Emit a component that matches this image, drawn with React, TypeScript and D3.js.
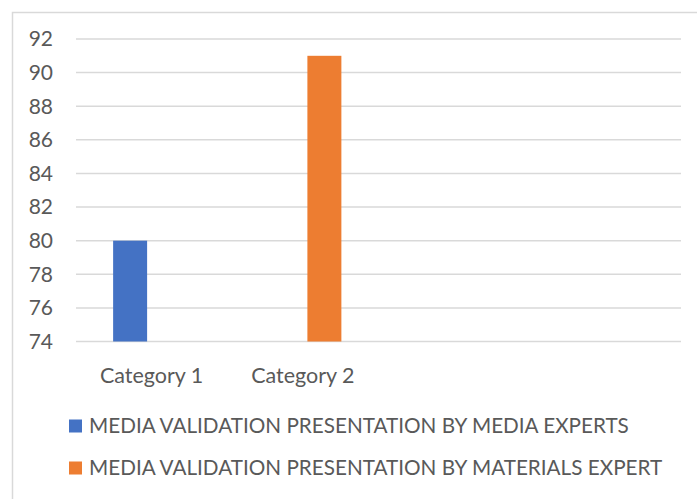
import React, { useEffect, useRef } from "react";
import * as d3 from "d3";

// Category axis: four slots, only the first two carry labels
const categories: string[] = ["Category 1", "Category 2", "", ""];
const seriesNames: string[] = [
  "MEDIA VALIDATION PRESENTATION BY MEDIA EXPERTS",
  "MEDIA VALIDATION PRESENTATION BY MATERIALS EXPERT",
];
const mediaExperts: (number | null)[] = [80, null, null, null];
const materialsExpert: (number | null)[] = [null, 91, null, null];
const yTicks: number[] = [74, 76, 78, 80, 82, 84, 86, 88, 90, 92];
const colors: string[] = ["#4472C4", "#ED7D31"];

const W = 697;
const H = 499;
const FONT = "Lato, 'Open Sans', sans-serif";
const TEXT = "#595959";
const GRID = "#d9d9d9";

export default function App() {
  const ref = useRef<SVGSVGElement | null>(null);

  useEffect(() => {
    const svg = d3.select(ref.current);
    svg.selectAll("*").remove();

    const left = 76;
    const right = 681;
    const top = 39;
    const bottom = 341.5;

    // chart frame
    svg
      .append("rect")
      .attr("x", 12.5)
      .attr("y", 12.5)
      .attr("width", W + 20)
      .attr("height", H + 20)
      .attr("fill", "#fff")
      .attr("stroke", GRID)
      .attr("stroke-width", 1.5);

    const x = d3
      .scaleBand<number>()
      .domain(categories.map((_, i) => i))
      .range([left, right])
      .padding(0);

    const y = d3.scaleLinear().domain([74, 92]).range([bottom, top]);

    // gridlines
    svg
      .append("g")
      .selectAll("line")
      .data(yTicks)
      .join("line")
      .attr("x1", left)
      .attr("x2", right)
      .attr("y1", (d) => y(d))
      .attr("y2", (d) => y(d))
      .attr("stroke", GRID)
      .attr("stroke-width", 1.5);

    // y tick labels
    svg
      .append("g")
      .selectAll("text")
      .data(yTicks)
      .join("text")
      .attr("x", 53)
      .attr("y", (d) => y(d))
      .attr("dy", "0.35em")
      .attr("text-anchor", "end")
      .attr("font-family", FONT)
      .attr("font-size", 21)
      .attr("fill", TEXT)
      .text((d) => String(d));

    // bars: each category holds a group of the two series
    const series = [mediaExperts, materialsExpert];
    const groupHalf = 38.5;
    const innerFor = (c: number) =>
      d3
        .scaleBand<number>()
        .domain([0, 1])
        .range([c - groupHalf, c + groupHalf])
        .paddingInner(0.21)
        .paddingOuter(0);
    series.forEach((vals, si) => {
      svg
        .append("g")
        .selectAll("rect")
        .data(vals.map((v, i) => ({ v, i })).filter((d) => d.v !== null))
        .join("rect")
        .attr("x", (d) => innerFor((x(d.i) as number) + x.bandwidth() / 2)(si) as number)
        .attr("width", innerFor(0).bandwidth())
        .attr("y", (d) => y(d.v as number))
        .attr("height", (d) => y(74) - y(d.v as number))
        .attr("fill", colors[si]);
    });

    // category labels
    svg
      .append("g")
      .selectAll("text")
      .data(categories.map((c, i) => ({ c, i })))
      .join("text")
      .attr("x", (d) => (x(d.i) as number) + x.bandwidth() / 2)
      .attr("y", 375)
      .attr("dy", "0.35em")
      .attr("text-anchor", "middle")
      .attr("font-family", FONT)
      .attr("font-size", 21.5)
      .attr("fill", TEXT)
      .text((d) => d.c);

    // legend
    const legendY = [426, 468];
    const lg = svg
      .append("g")
      .selectAll("g")
      .data(seriesNames.map((n, i) => ({ n, i })))
      .join("g")
      .attr("transform", (d) => `translate(69, ${legendY[d.i]})`);
    lg.append("rect")
      .attr("x", 0)
      .attr("y", -6.5)
      .attr("width", 13)
      .attr("height", 13)
      .attr("fill", (d) => colors[d.i]);
    lg.append("text")
      .attr("x", 20)
      .attr("y", 0)
      .attr("dy", "0.35em")
      .attr("font-family", FONT)
      .attr("font-size", 20.7)
      .attr("fill", TEXT)
      .text((d) => d.n);
  }, []);

  return (
    <svg
      ref={ref}
      width={W}
      height={H}
      style={{ position: "absolute", left: 0, top: 0, background: "#fff" }}
    />
  );
}
